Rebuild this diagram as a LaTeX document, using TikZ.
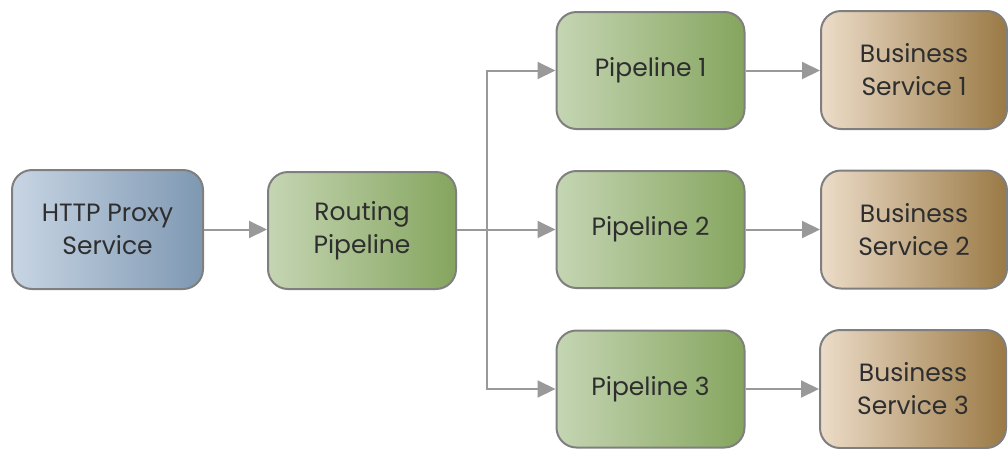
\documentclass[tikz,border=0pt]{standalone}
\usepackage{fontspec}
\setmainfont{Poppins}
\usetikzlibrary{arrows.meta,positioning}
\definecolor{bordc}{HTML}{7F7F7F}
\definecolor{arrc}{HTML}{999999}
\definecolor{txtc}{HTML}{2E2E2E}
\definecolor{blueL}{HTML}{C8D5E4}
\definecolor{blueR}{HTML}{7E98B2}
\definecolor{greenL}{HTML}{C5D5B3}
\definecolor{greenR}{HTML}{85A55E}
\definecolor{brownL}{HTML}{ECDCC8}
\definecolor{brownR}{HTML}{9A7945}
\tikzset{
  box/.style={draw=bordc, line width=2pt, rounded corners=20pt, align=center,
    text=txtc, font=\fontsize{25}{33}\selectfont, inner sep=0pt},
  bluebox/.style={box, left color=blueL, right color=blueR, minimum width=191pt, minimum height=119pt},
  greenbox/.style={box, left color=greenL, right color=greenR, minimum width=188pt, minimum height=117pt},
  brownbox/.style={box, left color=brownL, right color=brownR, minimum width=186pt, minimum height=118pt},
  arr/.style={draw=arrc, line width=2pt, -{Triangle[length=18pt,width=17pt]}},
  ln/.style={draw=arrc, line width=2pt}
}
\begin{document}
\begin{tikzpicture}[x=1pt,y=-1pt]
\useasboundingbox (0,0) rectangle (1008,448);
\node[bluebox] (http) at (107.5,229.5) {HTTP Proxy\\Service};
\node[greenbox] (routing) at (362,230.5) {Routing\\Pipeline};
\node[greenbox] (p1) at (650.5,70.5) {Pipeline 1};
\node[greenbox] (p2) at (650.5,229.5) {Pipeline 2};
\node[greenbox] (p3) at (650.5,389) {Pipeline 3};
\node[brownbox] (b1) at (914,70) {Business\\Service 1};
\node[brownbox] (b2) at (914,229.5) {Business\\Service 2};
\node[brownbox] (b3) at (913,389) {Business\\Service 3};
\coordinate (split) at (487,229.5);
\draw[arr] (http.east) -- (routing.west |- http.east);
\draw[ln] (routing.east |- split) -- (split);
\draw[arr] (split) -- (p2.west);
\draw[arr] (split) |- (p1.west);
\draw[arr] (split) |- (p3.west);
\draw[arr] (p1.east) -- (b1.west |- p1.east);
\draw[arr] (p2.east) -- (b2.west |- p2.east);
\draw[arr] (p3.east) -- (b3.west |- p3.east);
\end{tikzpicture}
\end{document}
